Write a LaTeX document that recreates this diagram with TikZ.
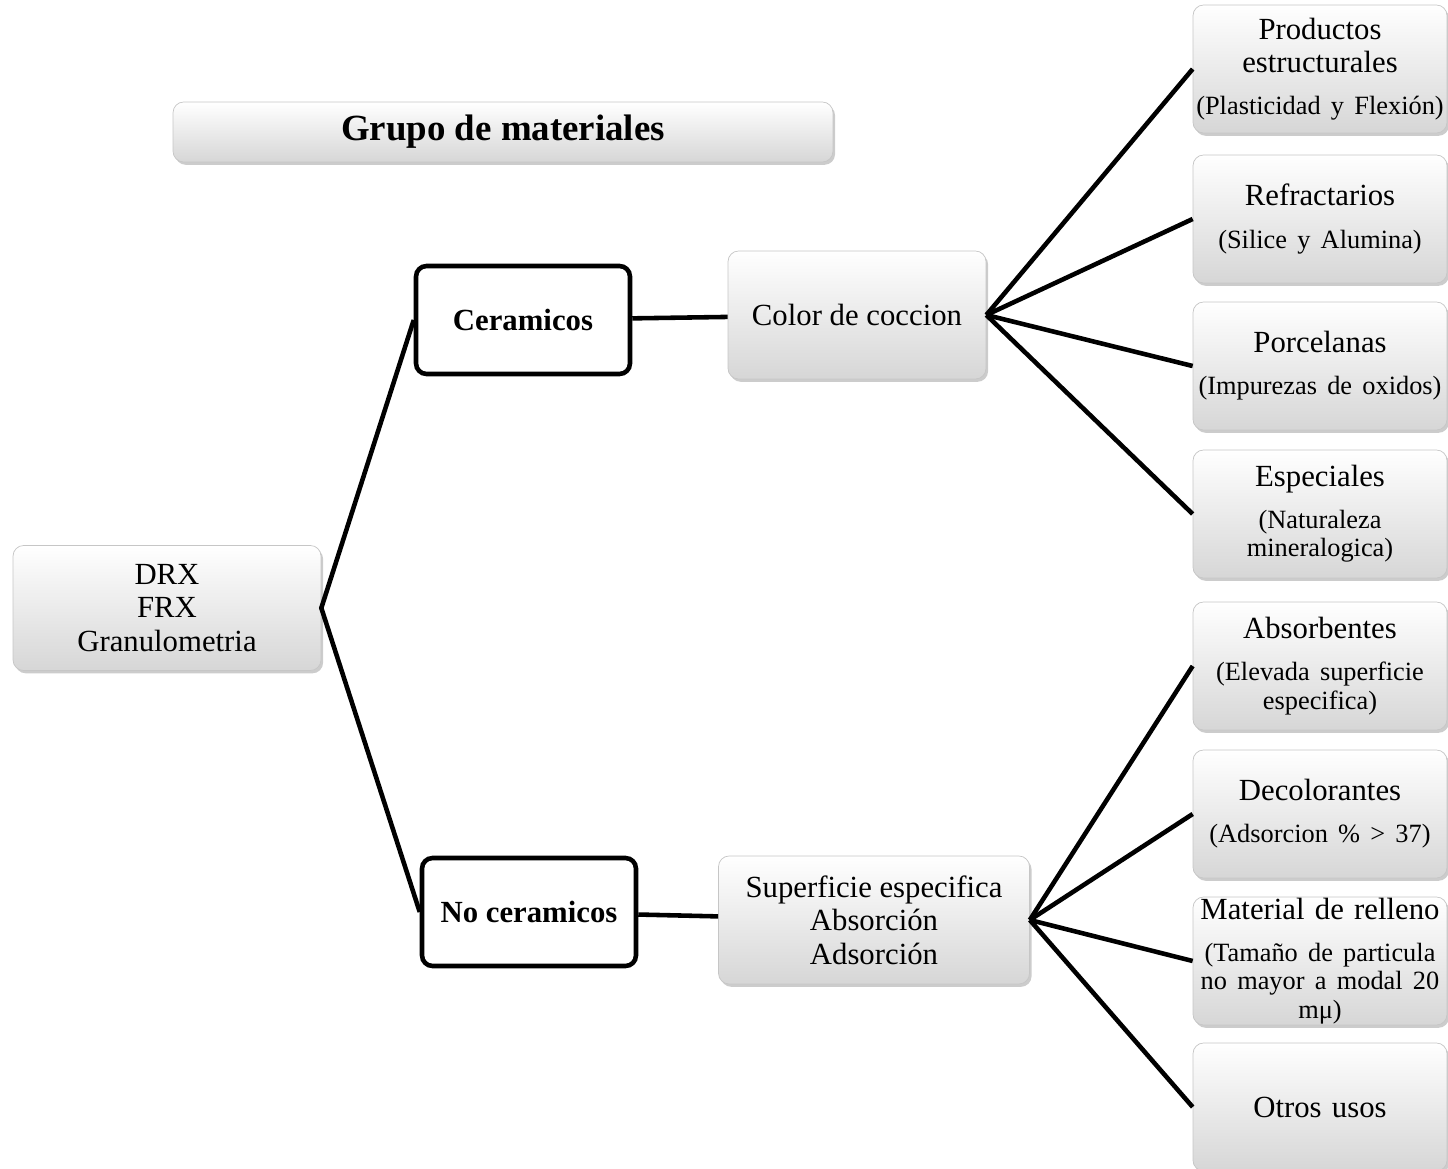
\documentclass[tikz,border=0pt]{standalone}
\usepackage{fontspec}
\setmainfont{Liberation Serif}
\usetikzlibrary{shadows}
\tikzstyle{glossy} = [rectangle, rounded corners=6pt, draw=gray!45, top color=white, bottom color=gray!32, drop shadow={opacity=0.4, shadow xshift=1.2pt, shadow yshift=-1.6pt}, align=center, font=\fontsize{17.5}{19}\selectfont]
\tikzstyle{category} = [rectangle, rounded corners=6pt, draw=black, line width=2.6pt, fill=white, align=center, minimum width=4.28cm, minimum height=2.16cm, font=\bfseries\fontsize{17.5}{19}\selectfont]
\tikzstyle{use} = [glossy, minimum width=5.08cm, minimum height=2.56cm, text width=5.04cm, inner sep=0.5pt, execute at begin node=\centering]
\tikzstyle{link} = [line width=2.6pt]
\newcommand{\detail}[1]{\par\vspace{8pt}{\centering\fontsize{15}{16}\selectfont #1\par}}

\begin{document}
\begin{tikzpicture}[x=0.02cm, y=-0.02cm]
		\useasboundingbox (0,0) rectangle (1448,1169);
		\node (title) [glossy, minimum width=13.2cm, minimum height=1.2cm, font=\bfseries\fontsize{21}{23}\selectfont] at (503,132) {Grupo de materiales};
		\node (root) [glossy, minimum width=6.16cm, minimum height=2.5cm] at (167,608) {DRX\\FRX\\Granulometria};
		\node (cer) [category] at (523,320) {Ceramicos};
		\node (nocer) [category] at (529,912) {No ceramicos};
		\node (color) [glossy, minimum width=5.16cm, minimum height=2.56cm] at (857,315) {Color de coccion};
		\node (surf) [glossy, minimum width=6.22cm, minimum height=2.56cm] at (874,920) {Superficie especifica\\Absorción\\Adsorción};
		\node (struct) [use] at (1320,69) {Productos\\estructurales\detail{(Plasticidad y Flexión)}};
		\node (refr) [use] at (1320,219) {Refractarios\detail{(Silice y Alumina)}};
		\node (porc) [use] at (1320,366) {Porcelanas\detail{(Impurezas de oxidos)}};
		\node (espec) [use] at (1320,514) {Especiales\detail{(Naturaleza\\mineralogica)}};
		\node (absorb) [use] at (1320,666) {Absorbentes\detail{(Elevada superficie\\especifica)}};
		\node (decol) [use] at (1320,814) {Decolorantes\detail{(Adsorcion \% > 37)}};
		\node (fill) [use] at (1320,961) {Material de relleno\detail{(Tamaño de particula\\no mayor a modal 20\\mμ)}};
		\node (other) [use] at (1320,1107) {Otros usos};
		\draw [link] (cer.west) -- (root.east) -- (nocer.west);
		\draw [link] (cer) -- (color);
		\draw [link] (nocer) -- (surf);
		\draw [link] (color.east) -- (struct.west);
		\draw [link] (color.east) -- (refr.west);
		\draw [link] (color.east) -- (porc.west);
		\draw [link] (color.east) -- (espec.west);
		\draw [link] (surf.east) -- (absorb.west);
		\draw [link] (surf.east) -- (decol.west);
		\draw [link] (surf.east) -- (fill.west);
		\draw [link] (surf.east) -- (other.west);
	\end{tikzpicture}
\end{document}
